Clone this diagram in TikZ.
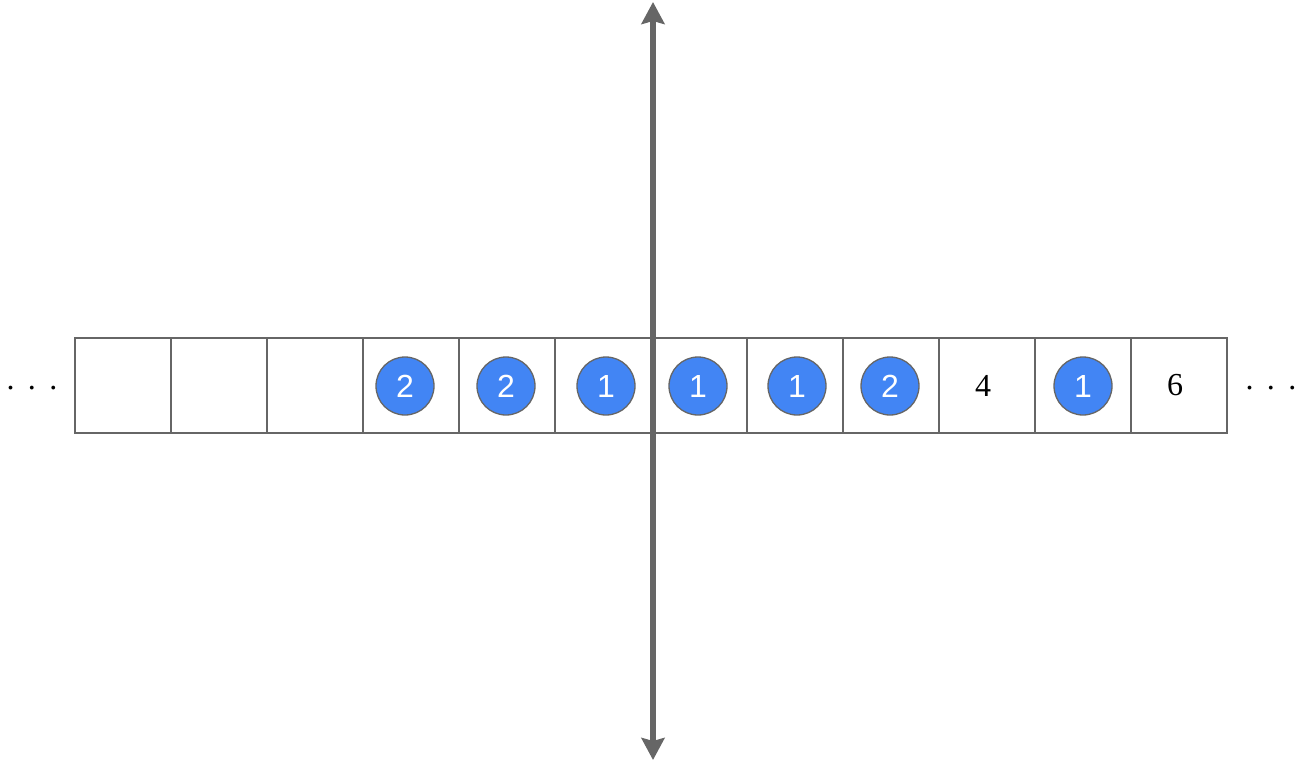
\documentclass[tikz,border=0pt]{standalone}
\usepackage{fontspec}
\setmainfont{Liberation Serif}
\newfontfamily\arialf{Liberation Sans}
\usetikzlibrary{arrows.meta}
\definecolor{gline}{HTML}{666666}
\definecolor{gblue}{HTML}{4285F4}
\begin{document}
\begin{tikzpicture}[x=1pt,y=-1pt,
  cell/.style={draw=gline,line width=1.3pt,minimum width=96pt,minimum height=95pt,inner sep=0pt,outer sep=0pt},
  ball/.style={circle,draw=gline,line width=1.3pt,fill=gblue,minimum size=58pt,inner sep=0pt,text=white,font=\arialf\fontsize{32}{32}\selectfont},
  num/.style={font=\fontsize{32}{32}\selectfont},
  axis/.style={draw=gline,line width=6pt,{Stealth[length=22pt,width=23pt,inset=3pt]}-{Stealth[length=22pt,width=23pt,inset=3pt]}}
]
\useasboundingbox (0,0) rectangle (1300,762);
\foreach \i in {0,...,11} \node[cell] (c\i) at (123+96*\i,385.5) {};
\node[ball] (b3) at (405,386) {2};
\node[ball] (b4) at (506,386) {2};
\node[ball] (b5) at (606,386) {1};
\node[ball] (b6) at (698,386) {1};
\node[ball] (b7) at (797,386) {1};
\node[ball] (b8) at (890,386) {2};
\node[num] (n9) at ([xshift=-4pt]c9.center) {4};
\node[ball] (b10) at (1083,386) {1};
\node[num] (n11) at ([xshift=-4pt]c11.center) {6};
\node[num,anchor=base] (dl) at (32,389) {.\hspace{13.5pt}.\hspace{13.5pt}.};
\node[num,anchor=base] (dr) at (1271,389) {.\hspace{13.5pt}.\hspace{13.5pt}.};
\coordinate (top) at (653,2);
\coordinate (bot) at (653,760);
\path[axis] (top) -- (bot);
\end{tikzpicture}
\end{document}
